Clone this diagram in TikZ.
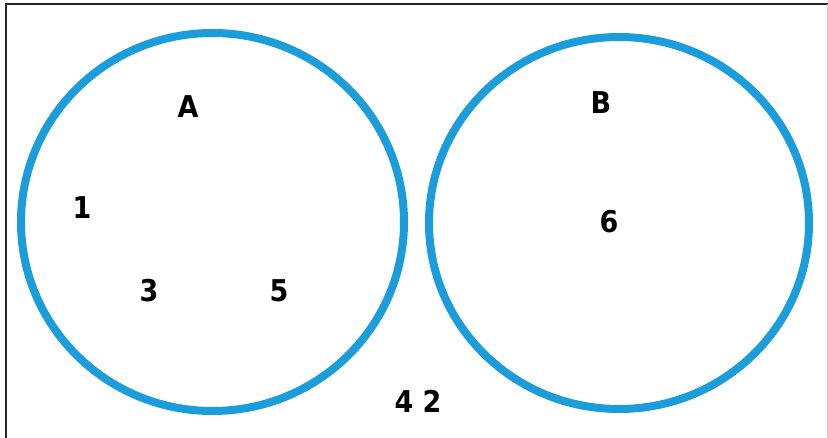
\documentclass[tikz,border=0pt]{standalone}
\usepackage{fontspec}
\setmainfont{DejaVu Sans Condensed}
\definecolor{vennblue}{RGB}{27,157,219}
\begin{document}
\begin{tikzpicture}[x=1pt,y=-1pt,
  setring/.style={draw=vennblue,line width=8pt},
  lbl/.style={font=\fontsize{30}{33}\selectfont\bfseries,inner sep=0pt}]
\useasboundingbox (0,0) rectangle (828,438);
\fill[white] (0,0) rectangle (828,438);
\draw[line width=2pt,black!85] (6,440) -- (6,4) -- (828,4);
\draw[line width=1pt,black!20] (827.5,4) -- (827.5,440);
\draw[setring] (212.5,222) ellipse [x radius=191.5, y radius=189];
\draw[setring] (619,223) ellipse [x radius=190, y radius=186];
\node[lbl] (a) at (188,107) {A};
\node[lbl] (b) at (601,103) {B};
\node[lbl] (n1) at (82,208) {1};
\node[lbl] (n3) at (149,291) {3};
\node[lbl] (n5) at (279,291) {5};
\node[lbl] (n6) at (609,222) {6};
\node[lbl] (n42) at (418,401) {4 2};
\end{tikzpicture}
\end{document}
